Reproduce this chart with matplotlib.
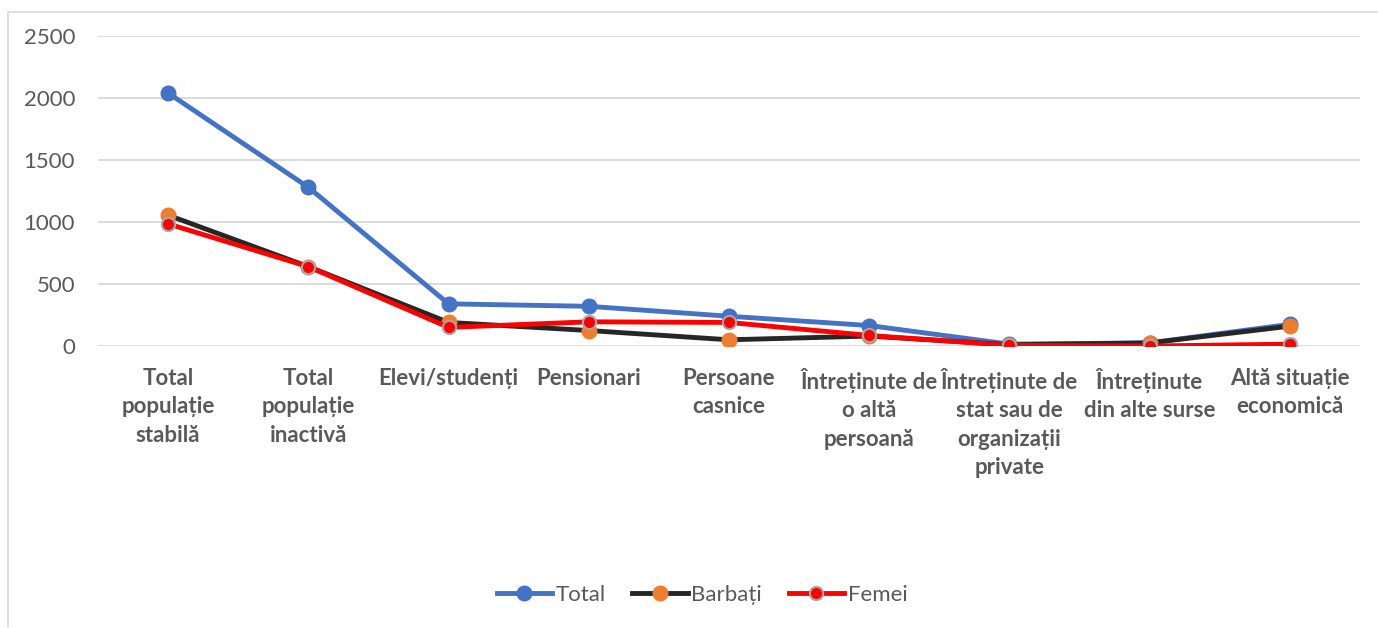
import matplotlib.pyplot as plt
from matplotlib.patches import Rectangle

plt.rcParams["font.family"] = ["Lato", "DejaVu Sans"]

categorii = [
    "Total\npopulație\nstabilă",
    "Total\npopulație\ninactivă",
    "Elevi/studenți",
    "Pensionari",
    "Persoane\ncasnice",
    "Întreținute de\no altă\npersoană",
    "Întreținute de\nstat sau de\norganizații\nprivate",
    "Întreținute\ndin alte surse",
    "Altă situație\neconomică",
]
total = [2040, 1280, 340, 320, 240, 165, 15, 25, 175]
barbati = [1055, 640, 190, 125, 50, 80, 10, 25, 160]
femei = [985, 640, 150, 195, 190, 85, 5, 0, 15]

gri_text = "#595959"

fig = plt.figure(figsize=(13.78, 6.28), dpi=100)
ax = fig.add_axes([98 / 1378, 1 - 346 / 628, 1262 / 1378, 310 / 628])

# chenar (se vede doar stanga si sus)
fig.patches.append(Rectangle((8 / 1378, -0.1), 1.2, (628 - 12) / 628 + 0.1,
                             transform=fig.transFigure, fill=False,
                             edgecolor="#d9d9d9", lw=1.2))

x = range(len(categorii))
ax.plot(x, total, "-o", color="#4472c4", lw=3.5, ms=10.5, mec="#4472c4", label="Total", zorder=3)
ax.plot(x, barbati, "-o", color="#262626", lw=3.5, ms=10.5, mfc="#ed7d31", mec="#ed7d31",
        label="Barbați", zorder=4)
ax.plot(x, femei, "-o", color="#ff0000", lw=3.5, ms=9.5, mfc="#ff0000", mec="#a6a6a6",
        mew=1.5, label="Femei", zorder=5)

ax.set_xlim(-0.5, len(categorii) - 0.5)
ax.set_ylim(0, 2500)
ax.set_yticks(range(0, 2501, 500))
ax.grid(axis="y", color="#d9d9d9", lw=1.3)
ax.set_axisbelow(True)
for s in ax.spines.values():
    s.set_visible(False)
ax.tick_params(length=0)
ax.tick_params(axis="y", labelsize=16, labelcolor=gri_text, pad=16.5)
ax.set_xticks(list(x))
ax.set_xticklabels(categorii, fontsize=16, fontweight="bold", color=gri_text,
                   va="top", linespacing=1.42)
ax.tick_params(axis="x", pad=16)

ax.legend(loc="center", bbox_to_anchor=(702 / 1378, (628 - 595) / 628), bbox_transform=fig.transFigure,
          ncol=3, frameon=False, fontsize=16, labelcolor=gri_text, handlelength=2.5,
          columnspacing=1.2, handletextpad=0.15)

fig.savefig("out.png", dpi=100)
